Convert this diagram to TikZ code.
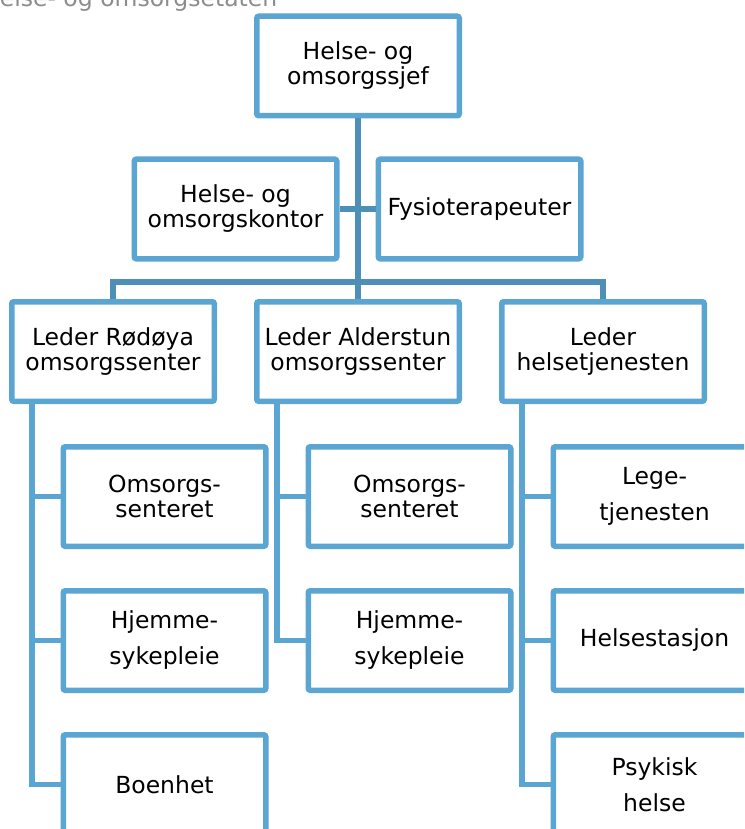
\documentclass[tikz,border=0pt]{standalone}
\usepackage{fontspec}
\setmainfont{DejaVu Sans}
\usetikzlibrary{positioning,calc}
\definecolor{EtatBlue}{HTML}{5AA5D2}
\definecolor{EtatDark}{HTML}{4E8FB8}
\definecolor{EtatGrey}{HTML}{8C8C8C}

\begin{document}
\begin{tikzpicture}[x=1pt,y=-1pt,font=\fontsize{23.5}{25}\selectfont,
  b/.style={draw=EtatBlue,line width=5.5pt,rounded corners=2pt,fill=white,align=center,minimum width=202.5pt,minimum height=99.5pt,inner sep=2pt},
  tall/.style={font=\fontsize{23.5}{36}\selectfont},
  ln/.style={draw=EtatDark,line width=5.5pt},
  sub/.style={draw=EtatBlue,line width=5.5pt}]
  \useasboundingbox (0,0) rectangle (744,829);
  \clip (0,0) rectangle (744,829);
  \node[anchor=base west,text=EtatGrey,inner sep=0pt] (etat) at (-18,7) {Helse- og omsorgsetaten};
  % ledelse
  \node[b] (sjef) at (358,66) {Helse- og\\omsorgssjef};
  \node[b] (kontor) at (235.5,209) {Helse- og\\omsorgskontor};
  \node[b,right=36pt of kontor] (fysio) {Fysioterapeuter};
  % ledere
  \node[b] (rod) at (113,351.5) {Leder Rødøya\\omsorgssenter};
  \node[b,right=37pt of rod] (ald) {Leder Alderstun\\omsorgssenter};
  \node[b,right=37pt of ald] (hel) {Leder\\helsetjenesten};
  % tjenester
  \node[b,below=40pt of rod,xshift=51.5pt] (rod1) {Omsorgs-\\senteret};
  \node[b,tall,below=39pt of rod1] (rod2) {Hjemme-\\sykepleie};
  \node[b,below=39pt of rod2] (rod3) {Boenhet};
  \node[b,below=40pt of ald,xshift=51.5pt] (ald1) {Omsorgs-\\senteret};
  \node[b,tall,below=39pt of ald1] (ald2) {Hjemme-\\sykepleie};
  \node[b,tall,below=40pt of hel,xshift=51.5pt] (hel1) {Lege-\\tjenesten};
  \node[b,below=39pt of hel1] (hel2) {Helsestasjon};
  \node[b,tall,below=39pt of hel2] (hel3) {Psykisk\\helse};
  % linjer
  \coordinate (bus) at (358,282);
  \draw[ln] (sjef) -- (ald);
  \draw[ln] (kontor) -- (fysio);
  \draw[ln] (rod.north) |- (bus) -| (hel.north);
  \coordinate (rodt) at ($(rod.south west)+(23,0)$);
  \coordinate (aldt) at ($(ald.south west)+(23,0)$);
  \coordinate (helt) at ($(hel.south west)+(23,0)$);
  \draw[sub] (rodt) |- (rod3.west);
  \draw[sub] (rodt |- rod1.west) -- (rod1.west);
  \draw[sub] (rodt |- rod2.west) -- (rod2.west);
  \draw[sub] (aldt) |- (ald2.west);
  \draw[sub] (aldt |- ald1.west) -- (ald1.west);
  \draw[sub] (helt) |- (hel3.west);
  \draw[sub] (helt |- hel1.west) -- (hel1.west);
  \draw[sub] (helt |- hel2.west) -- (hel2.west);
\end{tikzpicture}
\end{document}
